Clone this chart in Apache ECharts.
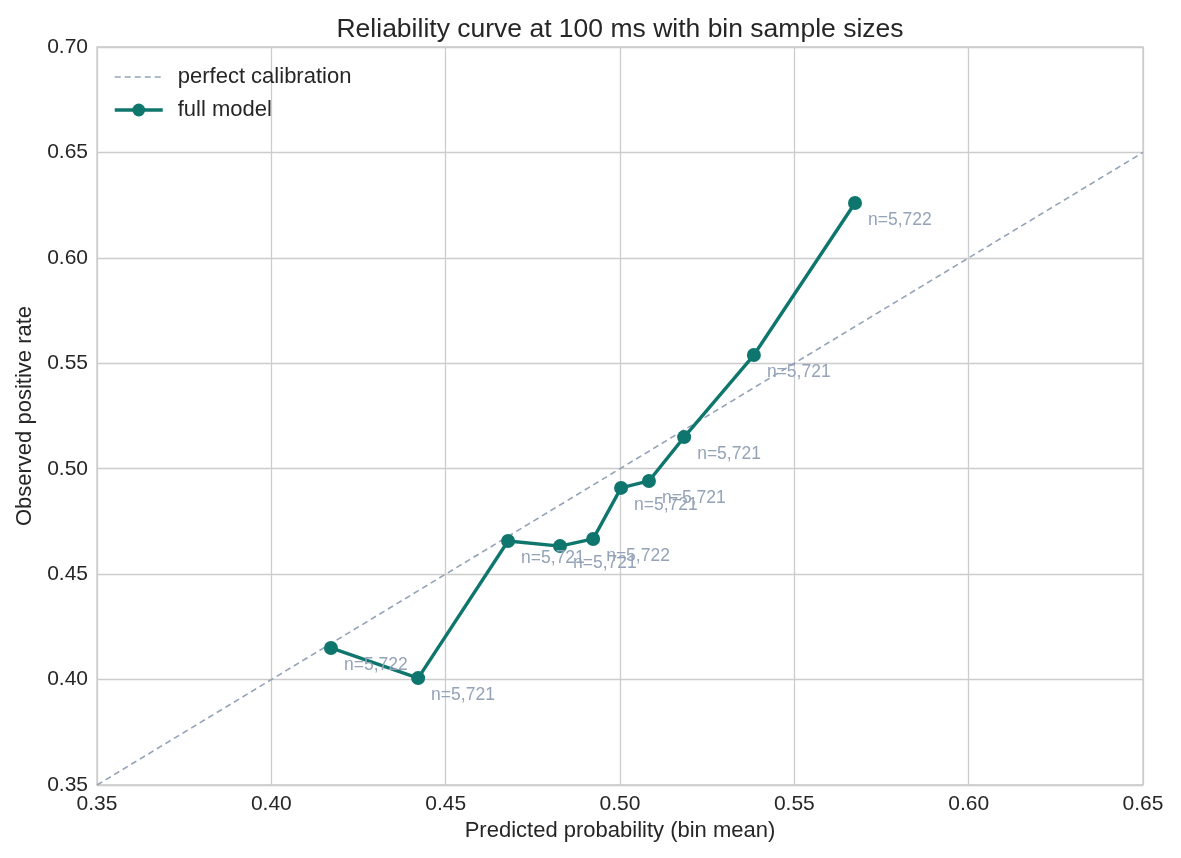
<!DOCTYPE html>
<html>
<head>
<meta charset="utf-8">
<script src="https://cdn.jsdelivr.net/npm/echarts@6/dist/echarts.min.js"></script>
<style>
  html, body { margin: 0; padding: 0; background: #fff; }
  #chart { width: 1181px; height: 858px; }
</style>
</head>
<body>
<div id="chart"></div>
<script>
// 每个分箱的平均预测概率、实际正例率、样本数
var predMean = [0.4171, 0.4421, 0.4679, 0.4828, 0.4923, 0.5003, 0.5083, 0.5184, 0.5384, 0.5674];
var obsRate = [0.415, 0.4007, 0.4657, 0.4633, 0.4667, 0.4909, 0.4942, 0.515, 0.5539, 0.626];
var binN = [5722, 5721, 5721, 5721, 5722, 5721, 5721, 5721, 5721, 5722];
// 对角线（完美校准）
var diag = [0.35, 0.65];

var font = "'Liberation Sans', Arial, sans-serif";
var myChart = echarts.init(document.getElementById('chart'));

var fullData = predMean.map(function (x, i) {
  return [x, obsRate[i], binN[i]];
});

var option = {
  textStyle: { fontFamily: font },
  title: {
    text: 'Reliability curve at 100 ms with bin sample sizes',
    left: 615,
    textAlign: 'center',
    top: 11,
    textStyle: { fontSize: 26.5, fontWeight: 'normal', color: '#262626', fontFamily: font }
  },
  legend: {
    orient: 'vertical',
    left: 108,
    top: 61,
    itemWidth: 48,
    itemHeight: 16,
    itemGap: 11,
    textStyle: { fontSize: 22, color: '#262626', padding: [0, 0, 0, 10], fontFamily: font },
    data: [{
      name: 'perfect calibration',
      itemStyle: { opacity: 0 },
      lineStyle: { type: [6, 4], width: 1.6, color: '#94a3b8' }
    }, {
      name: 'full model',
      lineStyle: { width: 3.5, color: '#0f766e' }
    }]
  },
  grid: {
    left: 97,
    right: 38,
    top: 47,
    bottom: 73,
    show: true,
    borderColor: '#cccccc',
    borderWidth: 1.3
  },
  xAxis: {
    type: 'value',
    min: 0.35,
    max: 0.65,
    interval: 0.05,
    name: 'Predicted probability (bin mean)',
    nameLocation: 'middle',
    nameGap: 33,
    nameTextStyle: { fontSize: 22, color: '#262626', fontFamily: font },
    axisLine: { show: false },
    axisTick: { show: false },
    axisLabel: {
      fontSize: 21, color: '#262626', margin: 9,
      formatter: function (v) { return v.toFixed(2); }
    },
    splitLine: { lineStyle: { color: '#cccccc', width: 1.3 } }
  },
  yAxis: {
    type: 'value',
    min: 0.35,
    max: 0.70,
    interval: 0.05,
    name: 'Observed positive rate',
    nameLocation: 'middle',
    nameGap: 61,
    nameTextStyle: { fontSize: 22, color: '#262626', fontFamily: font },
    axisLine: { show: false },
    axisTick: { show: false },
    axisLabel: {
      fontSize: 21, color: '#262626', margin: 9,
      formatter: function (v) { return v.toFixed(2); }
    },
    splitLine: { lineStyle: { color: '#cccccc', width: 1.3 } }
  },
  series: [{
    name: 'perfect calibration',
    type: 'line',
    data: [[diag[0], diag[0]], [diag[1], diag[1]]],
    symbol: 'none',
    color: '#94a3b8',
    lineStyle: { type: [6, 4], width: 1.6, color: '#94a3b8' },
    silent: true,
    z: 2
  }, {
    name: 'full model',
    type: 'line',
    data: fullData,
    symbol: 'circle',
    symbolSize: 14,
    color: '#0f766e',
    lineStyle: { width: 3.4, color: '#0f766e' },
    itemStyle: { color: '#0f766e' },
    label: {
      show: true,
      position: 'right',
      distance: 5,
      offset: [1, 17],
      fontSize: 17.5,
      color: '#94a3b8',
      fontFamily: font,
      formatter: function (p) {
        return 'n=' + p.data[2].toLocaleString('en-US');
      }
    },
    z: 3
  }]
};

window.addEventListener('resize', function () {
  myChart.resize();
});
myChart.setOption(option);
</script>
</body>
</html>
